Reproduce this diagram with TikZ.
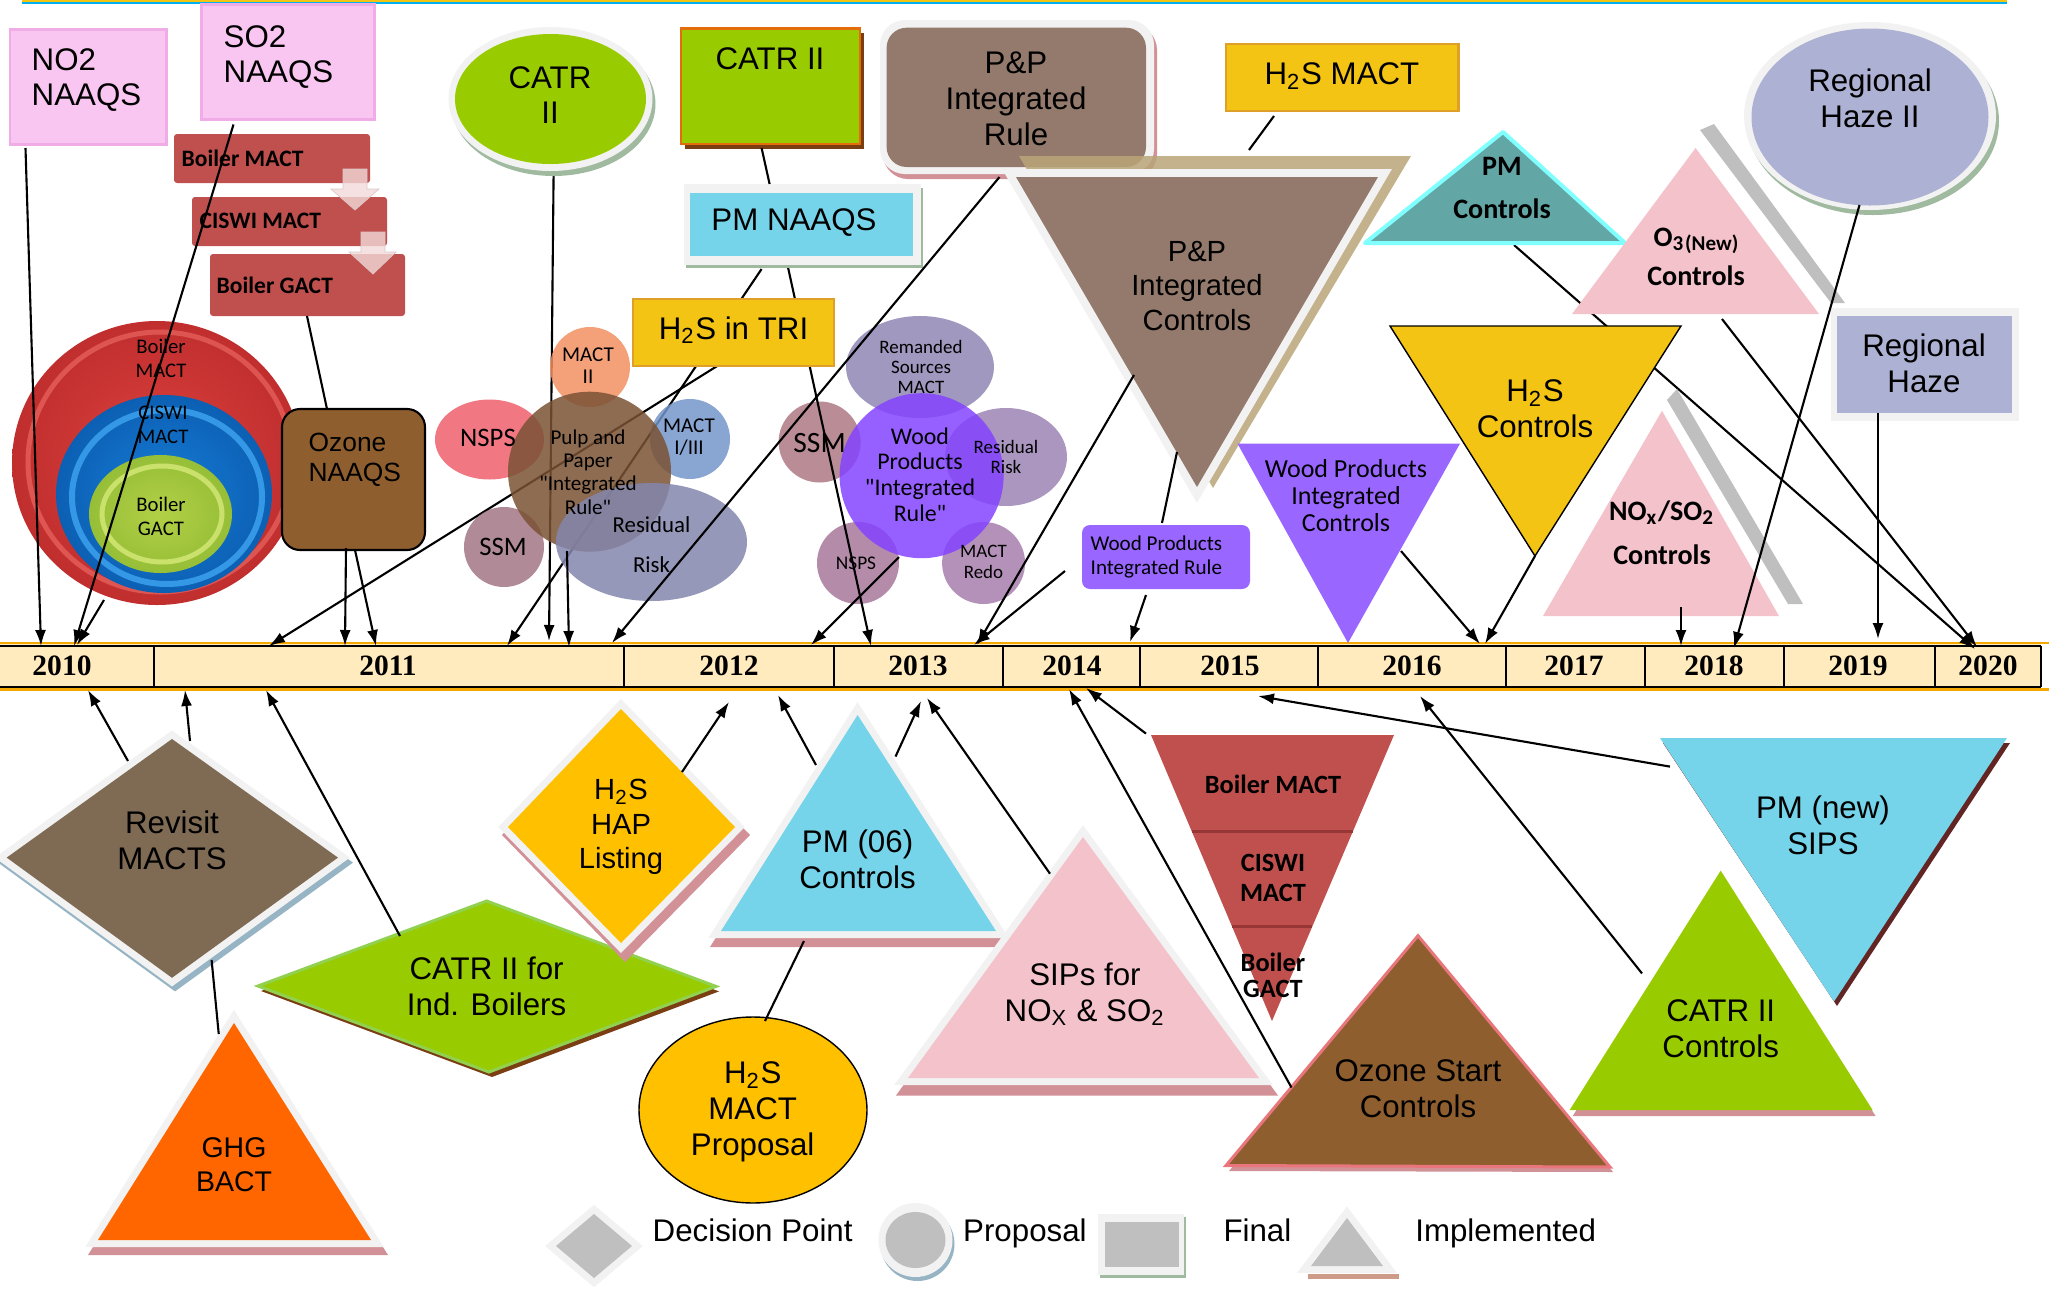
\documentclass[tikz,border=0pt]{standalone}
\usepackage{fontspec}
\setmainfont{Liberation Sans}
\newfontfamily\calibri{Carlito}
\newfontfamily\yearfont{Liberation Serif}
\usetikzlibrary{arrows.meta}
\newcommand{\setfs}[2]{\fontsize{#1}{#2}\selectfont}
% colours
\definecolor{naaqspink}{RGB}{248,198,240}
\definecolor{naaqsedge}{RGB}{240,172,230}
\definecolor{boilerred}{RGB}{192,80,77}
\definecolor{boilerdark}{RGB}{150,55,53}
\definecolor{blockpink}{RGB}{242,218,218}
\definecolor{ringred}{RGB}{220,66,62}
\definecolor{ringreddark}{RGB}{192,46,46}
\definecolor{ringredrim}{RGB}{240,110,105}
\definecolor{ringblue}{RGB}{22,124,214}
\definecolor{ringbluedark}{RGB}{12,96,180}
\definecolor{ringbluerim}{RGB}{70,175,250}
\definecolor{ringgreen}{RGB}{178,208,70}
\definecolor{ringgreendark}{RGB}{150,190,55}
\definecolor{ringgreenrim}{RGB}{222,240,130}
\definecolor{ozonebrown}{RGB}{143,94,47}
\definecolor{ozoneedge}{RGB}{232,118,124}
\definecolor{catrgreen}{RGB}{153,204,0}
\definecolor{catredge}{RGB}{228,108,10}
\definecolor{catrshadow}{RGB}{122,62,18}
\definecolor{catrlight}{RGB}{146,208,80}
\definecolor{framegray}{RGB}{242,242,242}
\definecolor{shadowgreen}{RGB}{160,186,160}
\definecolor{shadowblue}{RGB}{150,180,196}
\definecolor{pinkshadow}{RGB}{210,145,150}
\definecolor{darkshadow}{RGB}{99,37,35}
\definecolor{pmblue}{RGB}{118,212,234}
\definecolor{pptaupe}{RGB}{148,122,108}
\definecolor{tanshadow}{RGB}{185,165,120}
\definecolor{h2syellow}{RGB}{244,196,20}
\definecolor{yellowedge}{RGB}{222,160,40}
\definecolor{hapyellow}{RGB}{255,192,0}
\definecolor{pmteal}{RGB}{98,166,166}
\definecolor{pmcyan}{RGB}{128,255,255}
\definecolor{o3pink}{RGB}{244,194,203}
\definecolor{bandgray}{RGB}{191,191,191}
\definecolor{hazepurple}{RGB}{173,177,211}
\definecolor{woodpurple}{RGB}{153,102,255}
\definecolor{revisitbrown}{RGB}{127,106,84}
\definecolor{ghgorange}{RGB}{255,102,0}
\definecolor{legendgray}{RGB}{191,191,191}
\definecolor{legendpink}{RGB}{205,155,135}
\definecolor{barfill}{RGB}{255,235,190}
\definecolor{baredge}{RGB}{245,168,0}
\definecolor{topcyan}{RGB}{0,176,240}
\definecolor{macttwo}{RGB}{242,144,99}
\definecolor{nspsred}{RGB}{238,96,108}
\definecolor{macttri}{RGB}{116,149,202}
\definecolor{ssmmauve}{RGB}{162,118,132}
\definecolor{pulpbrown}{RGB}{122,82,52}
\definecolor{riskslate}{RGB}{132,134,173}
\definecolor{remandgray}{RGB}{143,134,179}
\definecolor{woodcore}{RGB}{132,67,255}
\definecolor{riskviolet}{RGB}{155,132,179}
\definecolor{nspsmauve}{RGB}{167,120,155}
\definecolor{redomauve}{RGB}{167,126,173}
\definecolor{ssmwood}{RGB}{173,120,132}

\begin{document}
\begin{tikzpicture}[
			x=0.1mm, y=-0.1mm,
			lbl/.style={inner sep=0pt, align=center, font=\setfs{8.9}{10.2}},
			lblleft/.style={lbl, align=left, anchor=west},
			cal/.style 2 args={inner sep=0pt, align=center, font=\calibri\setfs{#1}{#2}},
			calb/.style 2 args={inner sep=0pt, align=center, font=\calibri\bfseries\setfs{#1}{#2}},
			year/.style={inner sep=0pt, font=\yearfont\bfseries\setfs{8.4}{10}},
			frame/.style={draw=framegray, line width=1.4mm, line join=miter},
			bubble/.style={fill opacity=0.85},
			link/.style={draw, line width=0.6pt},
			arr/.style={link, -{Latex[length=1.6mm, width=1.1mm]}}
			]
			\useasboundingbox (0,0) rectangle (2049,1300);
			\fill[topcyan] (22,0) rectangle (2007,3.5);
			\fill[h2syellow] (22,0) rectangle (2007,1.5);

			% Connector ends
			\foreach \n/\x/\y in {
				no2-out/25.5/148, so2-out/233.5/124.5, ring-out/104/600,
				ozn-out1/346/548, ozn-out2/355/550, tri-out/730/358,
				catre-out/553.6/174, pulp-out/567/551, pmn-out1/761.6/269,
				pmn-out2/787.5/265, ppr-out/999.5/177, wood-out/899/557,
				ppc-out1/1134/375, wpr-out1/1065/571, ppc-out2/1177/452,
				wpr-in/1162/523, wpr-out2/1146/595, h2sm-out/1274/116,
				ppc-in/1249/150, catrr-out/761.6/148, pmn-in/769.6/184,
				bg1-out/307/316, ozn-in/327/409, rev-out/211.6/960,
				ghg-in/218.75/1034, pm06-out/804/941, prop-in/765/1021,
				wpc-out/1401/551, h2sc-out/1535/556, pmc-out/1514/245,
				o3c-out/1722/319, rh2-out/1859.5/205, rh-out/1878/413,
				noxc-out/1681/607,
				rev-out1/128/761, rev-out2/190/741, catrb-out/400/936,
				hap-out/682/772, pm06-out1/816/765, pm06-out2/895.5/756.6,
				sips-out/1050/873.7, ozs-out/1291.5/1087.5, bm2-out/1146/733.6,
				pmnew-out/1670/766.6, catrc-out/1642/973.4,
				t1/41/646, t2/74/646, t3/77/645, t4/345/646, t5/376/646,
				t6/269/646, t7/549/641, t8/569/647, t9/507/646, t10/871/646,
				t11/612/643, t12/811/645, t13/977/645, t14/974/645,
				t15/1130/642, t16/1480/644, t17/1485/644, t18/1975/649,
				t19/1977/647, t20/1734/648, t21/1878/639, t22/1681/646,
				b1/88/690, b2/185/690, b3/266/690, b4/729/702, b5/778/695,
				b6/921/701, b7/927/698, b8/1069/689, b9/1086/688,
				b10/1258/696, b11/1420/696}
				\coordinate (\n) at (\x,\y);

			% Timeline
			\fill[barfill] (0,644) rectangle (2041,688);
			\draw[baredge, line width=0.27mm] (0,643) -- (2049,643) (0,689.5) -- (2049,689.5);
			\draw[line width=0.15mm] (0,646) -- (2041,646) (0,687) -- (2041,687);
			\foreach \x in {154,624,834,1003,1140,1318,1506,1645,1784,1935,2041}
				\draw[line width=0.15mm] (\x,646) -- (\x,687);
			\foreach \yr/\x in {2010/62, 2011/388, 2012/729, 2013/918, 2014/1072,
				2015/1230, 2016/1412, 2017/1574, 2018/1714, 2019/1858, 2020/1988}
				\node[year] (y\yr) at (\x,666) {\yr};

			% Lines behind the shapes
			\path
			(tri-out) edge[arr] (t6)
			(catre-out) edge[arr] (t7)
			(pmn-out1) edge[arr] (t9)
			(pmc-out) edge[arr] (t18);

			% Pulp and paper cluster
			\fill[bubble, macttwo] (590,367) circle [radius=40];
			\fill[bubble, nspsred] (489.5,439.5) ellipse [x radius=54.5, y radius=40];
			\fill[bubble, macttri] (690,439) circle [radius=40];
			\fill[bubble, ssmmauve] (504,547) circle [radius=40];
			\fill[bubble, pulpbrown] (589.5,471.7) ellipse [x radius=81.5, y radius=80];
			\fill[bubble, riskslate] (651.5,542) ellipse [x radius=95.5, y radius=59];
			\node[cal={6}{6.3}] (m2) at (588,366) {MACT\\II};
			\node[cal={7.6}{8}] (nsps1) at (488,438) {NSPS};
			\node[cal={6}{6.1}] (m13) at (689,437) {MACT\\I/III};
			\node[cal={7.6}{8}] (ssm1) at (503,547) {SSM};
			\node[cal={6}{6.6}] (pulp) at (588,472) {Pulp and\\Paper\\"Integrated\\Rule"};
			\node[cal={6.5}{11.4}] (risk1) at (651.5,545) {Residual\\Risk};

			% Wood products cluster
			\fill[bubble, remandgray] (920,367) ellipse [x radius=74, y radius=51];
			\fill[bubble, ssmwood] (819.6,442) ellipse [x radius=41, y radius=40.5];
			\fill[bubble, riskviolet] (1006,457) ellipse [x radius=61, y radius=49];
			\fill[bubble, nspsmauve] (858,563) circle [radius=41];
			\fill[bubble, redomauve] (983.6,563) ellipse [x radius=41.5, y radius=41];
			\fill[bubble, woodcore] (921.6,475.7) ellipse [x radius=82, y radius=82.5];
			\node[cal={5.4}{5.7}] (rem) at (921,367) {Remanded\\Sources\\MACT};
			\node[cal={8.4}{9}] (ssm2) at (819.6,443) {SSM};
			\node[cal={6.8}{7.3}] (wood) at (920,474.5) {Wood\\Products\\"Integrated\\Rule"};
			\node[cal={5.4}{5.8}] (risk2) at (1006,457) {Residual\\Risk};
			\node[cal={5.5}{6}] (nsps2) at (856,563) {NSPS};
			\node[cal={5.4}{6}] (redo) at (983.5,562) {MACT\\Redo};

			\path (pmn-out2) edge[arr] (t10);

			% NAAQS boxes
			\draw[draw=naaqsedge, fill=naaqspink, line width=0.3mm] (10,29) rectangle (166,144);
			\node[lblleft] (no2) at (31,80) {NO2\\NAAQS};
			\draw[draw=naaqsedge, fill=naaqspink, line width=0.3mm] (201,4) rectangle (374,119);
			\node[lblleft] (so2) at (223,57) {SO2\\NAAQS};

			% Boiler steps
			\fill[boilerred, rounded corners=0.3mm] (174,134) rectangle (370,183);
			\node[calb={6.7}{8}, anchor=west] (bm1) at (181,158) {Boiler MACT};
			\fill[boilerred, rounded corners=0.3mm] (192,197) rectangle (387,246);
			\node[calb={6.7}{8}, anchor=west] (cm1) at (199,221) {CISWI MACT};
			\fill[boilerred, rounded corners=0.3mm] (210,254) rectangle (405,316);
			\node[calb={6.7}{8}, anchor=west] (bg1) at (216,285) {Boiler GACT};
			\filldraw[fill=blockpink, draw=blockpink!80!gray, fill opacity=0.8, line width=0.2pt]
				(343,169) -- (367,169) -- (367,189) -- (379,189) -- (355,210) -- (331,189) -- (343,189) -- cycle;
			\filldraw[fill=blockpink, draw=blockpink!80!gray, fill opacity=0.8, line width=0.2pt]
				(361,232) -- (385,232) -- (385,252) -- (396,252) -- (373,274) -- (349,252) -- (361,252) -- cycle;

			% Boiler rings
			\shade[inner color=ringred, outer color=ringreddark] (157,463) ellipse [x radius=145, y radius=142];
			\draw[ringredrim, line width=0.5mm, opacity=0.6] (160,462) ellipse [x radius=132, y radius=130];
			\shade[inner color=ringblue, outer color=ringbluedark] (164,494) ellipse [x radius=108, y radius=99];
			\draw[ringbluerim, line width=0.6mm, opacity=0.7] (167,497) ellipse [x radius=95, y radius=87];
			\shade[inner color=ringgreen, outer color=ringgreendark] (160.5,514) ellipse [x radius=71.5, y radius=59];
			\draw[ringgreenrim, line width=0.5mm, opacity=0.7] (162,514) ellipse [x radius=60, y radius=48];
			\node[cal={5.9}{6.8}] (rb) at (161,358) {Boiler\\MACT};
			\node[cal={5.9}{6.8}] (rc) at (163,425) {CISWI\\MACT};
			\node[cal={5.9}{6.8}] (rg) at (161,516) {Boiler\\GACT};

			% Ozone NAAQS
			\draw[fill=ozonebrown, rounded corners=1.8mm, line width=0.6pt] (282,409) rectangle (425,550);
			\node[lblleft, font=\setfs{7.5}{8.4}] (ozn) at (308,460) {Ozone\\NAAQS};

			% CATR II proposal and final
			\fill[shadowgreen] (553.5,104) ellipse [x radius=102, y radius=72];
			\fill[framegray] (550.5,99) ellipse [x radius=102, y radius=72];
			\fill[catrgreen] (550.5,99) ellipse [x radius=95.5, y radius=65];
			\node[lbl] (catre) at (550,95) {CATR\\II};
			\fill[catrshadow] (685,33) rectangle (864,149);
			\draw[draw=catredge, fill=catrgreen, line width=0.25mm] (681,28.5) rectangle (860,144);
			\node[lbl] (catrr) at (770,59) {CATR II};

			% PM NAAQS
			\fill[shadowgreen] (686,188) rectangle (923,268);
			\fill[framegray] (683.5,184) rectangle (921,265);
			\fill[pmblue] (690,192.5) rectangle (912.5,256);
			\node[lbl] (pmn) at (794,223) {PM NAAQS};

			% H2S in TRI
			\draw[draw=yellowedge, fill=h2syellow, line width=0.25mm] (633,299) rectangle (834,366);
			\node[lbl] (tri) at (733.5,330) {H\textsubscript{2}S in TRI};

			% P&P rule and controls
			\fill[pinkshadow, rounded corners=2.5mm] (883,25) rectangle (1157,179);
			\fill[framegray, rounded corners=2.5mm] (880,20) rectangle (1154,174);
			\fill[pptaupe, rounded corners=2mm] (886.6,27.7) rectangle (1146,167);
			\node[lbl] (ppr) at (1016,98.5) {P\&P\\Integrated\\Rule};
			\fill[tanshadow, fill opacity=0.85] (1019,156) -- (1411,156) -- (1213,488) -- cycle;
			\fill[pptaupe, preaction={frame, line width=1.6mm}] (1016,177) -- (1378,177) -- (1197,487) -- cycle;
			\node[lbl, font=\setfs{8.3}{9.7}] (ppc) at (1197,286) {P\&P\\Integrated\\Controls};

			% H2S MACT
			\draw[draw=yellowedge, fill=h2syellow, line width=0.25mm] (1226,44) rectangle (1458.5,111);
			\node[lbl] (h2sm) at (1342,76) {H\textsubscript{2}S MACT};

			% Wood products rule and controls
			\fill[woodpurple, rounded corners=0.8mm] (1082,525) rectangle (1250,589);
			\node[cal={6}{6.7}, align=left, anchor=west] (wpr) at (1090,557) {Wood Products\\Integrated Rule};
			\fill[woodpurple] (1237.5,443.6) -- (1460,443.6) -- (1348,643) -- cycle;
			\node[cal={7.4}{7.8}] (wpc) at (1346,495.5) {Wood Products\\Integrated\\Controls};

			% Controls, top right
			\draw[draw=pmcyan, fill=pmteal, line width=0.4mm, line join=round] (1503,132) -- (1365,243) -- (1625,243) -- cycle;
			\node[calb={8}{12.2}] (pmc) at (1502,188) {PM\\Controls};
			\fill[bandgray] (1700,130) -- (1714,124) -- (1845,303) -- (1831,303) -- cycle;
			\fill[o3pink] (1695.6,148) -- (1572,314) -- (1819,314) -- cycle;
			\node[calb={8}{11.2}] (o3c) at (1696,257) {O\textsubscript{3}\raisebox{-0.3ex}{\setfs{6}{7}(New)}\\Controls};
			\draw[fill=h2syellow, line width=0.4pt] (1390,326) -- (1681,326) -- (1535,556) -- cycle;
			\node[lbl] (h2sc) at (1535,409) {H\textsubscript{2}S\\Controls};
			\fill[bandgray] (1667,400) -- (1677,389) -- (1803,604) -- (1788,604) -- cycle;
			\fill[o3pink] (1662,410.7) -- (1543,616) -- (1779,616) -- cycle;
			\node[calb={8}{12.5}] (noxc) at (1662,533) {NO\textsubscript{x}/SO\textsubscript{2}\\Controls};

			% Regional haze
			\fill[shadowgreen] (1873,121) ellipse [x radius=126, y radius=94];
			\fill[framegray] (1870,116) ellipse [x radius=126, y radius=94];
			\fill[hazepurple] (1870,117) ellipse [x radius=118.5, y radius=88.5];
			\node[lbl] (rh2) at (1870,98) {Regional\\Haze II};
			\fill[framegray] (1830.6,308) rectangle (2019,421);
			\fill[hazepurple] (1837,316) rectangle (2011.5,413);
			\node[lbl] (rh) at (1924,363) {Regional\\Haze};

			% Below the timeline
			\fill[shadowblue] (-2,862.6) -- (175,735.4) -- (353,862.6) -- (175,991.4) -- cycle;
			\fill[revisitbrown, preaction={frame}] (6.7,857.6) -- (172,739) -- (338,857.6) -- (172,977.8) -- cycle;
			\node[lbl] (rev) at (172,840) {Revisit\\MACTS};
			\fill[pinkshadow] (237,1017) -- (88,1255) -- (388,1255) -- cycle;
			\fill[ghgorange, preaction={frame}] (234,1023) -- (98,1240) -- (371,1240) -- cycle;
			\node[lbl, font=\setfs{8.1}{9.6}] (ghg) at (234,1165) {GHG\\BACT};
			\fill[catrshadow] (261,991) -- (489.6,906) -- (719,991.4) -- (492,1077) -- cycle;
			\draw[draw=catrlight, fill=catrgreen, line width=0.3mm] (258,986) -- (486.6,901) -- (716,986.4) -- (489,1072) -- cycle;
			\node[lbl] (catrb) at (486.6,986) {CATR II for\\Ind. Boilers};
			\fill[pinkshadow] (625,706) -- (750,835) -- (625,962) -- (502,835) -- cycle;
			\fill[hapyellow, preaction={frame}] (621,709) -- (735,827) -- (621,943) -- (508,827) -- cycle;
			\node[lbl, font=\setfs{8.3}{9.8}] (hap) at (621,827) {H\textsubscript{2}S\\HAP\\Listing};
			\draw[fill=hapyellow, line width=0.4pt] (753,1110) ellipse [x radius=114, y radius=93];
			\node[lbl] (prop) at (752.7,1112) {H\textsubscript{2}S\\MACT\\Proposal};
			\fill[pinkshadow] (860.6,708.5) -- (710,947) -- (1013.7,947) -- cycle;
			\fill[pmblue, preaction={frame}] (857.6,715) -- (721,931) -- (996,931) -- cycle;
			\node[lbl] (pm06) at (857.6,859.5) {PM (06)\\Controls};
			\fill[pinkshadow] (1086,832) -- (896,1095.5) -- (1278,1095.5) -- cycle;
			\fill[o3pink, preaction={frame}] (1083,837) -- (908,1078) -- (1259,1078) -- cycle;
			\node[lbl] (sips) at (1085,994) {SIPs for\\NO\textsubscript{X} \& SO\textsubscript{2}};
			\fill[boilerred] (1151,735) -- (1394,735) -- (1272,1021) -- cycle;
			\draw[boilerdark, line width=0.3mm] (1191.6,831) -- (1353,831) (1232,926.6) -- (1312.3,926.6);
			\node[calb={7.5}{8}] (bm2) at (1273,784) {Boiler MACT};
			\node[calb={7.5}{8.3}] (cm2) at (1273,878) {CISWI\\MACT};
			\node[calb={7.5}{7.4}] (bg2) at (1273,975) {Boiler\\GACT};
			\fill[pinkshadow] (1421,941) -- (1229,1171) -- (1613,1172) -- cycle;
			\draw[draw=ozoneedge, fill=ozonebrown, line width=0.3mm] (1418,935.7) -- (1226,1165.5) -- (1610,1167) -- cycle;
			\node[lbl] (ozs) at (1418,1089) {Ozone Start\\Controls};
			\fill[darkshadow] (1663,743) -- (2010,743) -- (1837,1006) -- cycle;
			\fill[pmblue] (1660,738) -- (2007,738) -- (1834,1001.6) -- cycle;
			\node[lbl] (pmnew) at (1823,825) {PM (new)\\SIPS};
			\fill[pinkshadow] (1723.7,876.6) -- (1572.7,1116) -- (1875.6,1116) -- cycle;
			\fill[catrgreen] (1720.7,870.6) -- (1569.7,1110) -- (1872.6,1110) -- cycle;
			\node[lbl] (catrc) at (1720.7,1028.5) {CATR II\\Controls};

			% Legend
			\fill[legendgray!80!white] (555,1250) -- (596,1216) -- (637,1250) -- (596,1285) -- cycle;
			\fill[legendgray, preaction={frame}] (556,1246) -- (594,1214) -- (632,1246) -- (594,1278) -- cycle;
			\node[lbl, anchor=base west] (ldec) at (652,1241) {Decision Point};
			\fill[shadowblue] (917.5,1244) circle [radius=37];
			\fill[framegray] (915.5,1240) circle [radius=37];
			\fill[legendgray] (915.5,1240) ellipse [x radius=30, y radius=28];
			\node[lbl, anchor=base west] (lprop) at (962.5,1241) {Proposal};
			\fill[shadowgreen] (1100,1217) rectangle (1186,1278);
			\fill[framegray] (1097.8,1214) rectangle (1184,1275);
			\fill[legendgray] (1104.5,1222) rectangle (1179,1267);
			\node[lbl, anchor=base west] (lfin) at (1222.8,1241) {Final};
			\fill[legendpink] (1308,1274) rectangle (1399,1279);
			\fill[legendgray, preaction={frame}] (1347,1218) -- (1311,1266) -- (1383,1266) -- cycle;
			\node[lbl, anchor=base west] (limp) at (1414.6,1241) {Implemented};

			% Links between shapes
			\path
			(catrr-out) edge[link] (pmn-in)
			(bg1-out) edge[link] (ozn-in)
			(h2sm-out) edge[link] (ppc-in)
			(ppc-out2) edge[link] (wpr-in)
			(rev-out) edge[link] (ghg-in)
			(pm06-out) edge[link] (prop-in);

			% Arrows to the timeline
			\path
			(no2-out) edge[arr] (t1)
			(so2-out) edge[arr] (t2)
			(ring-out) edge[arr] (t3)
			(ozn-out1) edge[arr] (t4)
			(ozn-out2) edge[arr] (t5)
			(pulp-out) edge[arr] (t8)
			(ppr-out) edge[arr] (t11)
			(wood-out) edge[arr] (t12)
			(ppc-out1) edge[arr] (t13)
			(wpr-out1) edge[arr] (t14)
			(wpr-out2) edge[arr] (t15)
			(wpc-out) edge[arr] (t16)
			(h2sc-out) edge[arr] (t17)
			(o3c-out) edge[arr] (t19)
			(rh2-out) edge[arr] (t20)
			(rh-out) edge[arr] (t21)
			(noxc-out) edge[arr] (t22)
			(rev-out1) edge[arr] (b1)
			(rev-out2) edge[arr] (b2)
			(catrb-out) edge[arr] (b3)
			(hap-out) edge[arr] (b4)
			(pm06-out1) edge[arr] (b5)
			(pm06-out2) edge[arr] (b6)
			(sips-out) edge[arr] (b7)
			(ozs-out) edge[arr] (b8)
			(bm2-out) edge[arr] (b9)
			(pmnew-out) edge[arr] (b10)
			(catrc-out) edge[arr] (b11);
		\end{tikzpicture}
\end{document}
